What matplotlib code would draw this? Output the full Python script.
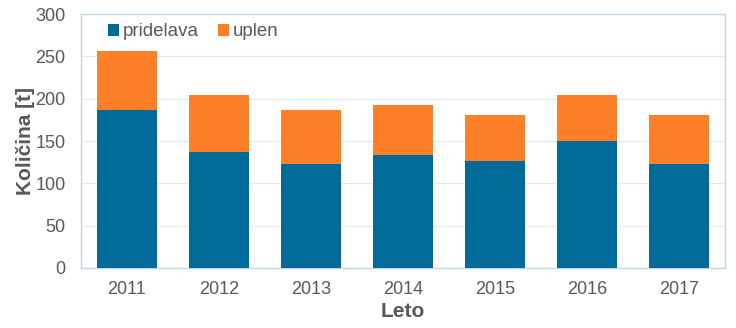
import numpy as np
import matplotlib.pyplot as plt

years = ['2011', '2012', '2013', '2014', '2015', '2016', '2017']
pridelava = [187, 137, 123, 134, 127, 150, 123]
uplen = [69, 67, 64, 58, 54, 54, 58]

plt.rcParams['font.family'] = ['Liberation Sans', 'DejaVu Sans']

blue = '#006b99'
orange = '#fd7f28'
frame = '#b9d9e6'
text_c = '#595959'

fig, ax = plt.subplots(figsize=(7.36, 3.28), dpi=100)
fig.subplots_adjust(left=0.11, right=0.985, top=0.957, bottom=0.183)

x = np.arange(len(years))
ax.bar(x, pridelava, width=0.66, color=blue, label='pridelava', zorder=3)
ax.bar(x, uplen, width=0.66, bottom=pridelava, color=orange, label='uplen', zorder=3)

ax.set_xlim(-0.5, len(years) - 0.5)
ax.set_ylim(0, 300)
ax.set_yticks(range(0, 301, 50))
ax.set_xticks(x)
ax.set_xticklabels(years)
ax.grid(axis='y', color='#e6e6e6', linewidth=0.8, zorder=0)
ax.tick_params(length=0, labelsize=13, colors=text_c)
ax.tick_params(axis='x', pad=9.5)
ax.tick_params(axis='y', pad=11)

for s in ax.spines.values():
    s.set_color(frame)
    s.set_linewidth(1)

ax.set_xlabel('Leto', fontsize=15, fontweight='bold', color=text_c, labelpad=3)
ax.set_ylabel('Količina [t]', fontsize=15, fontweight='bold', color=text_c, labelpad=0)

ax.legend(loc='upper left', bbox_to_anchor=(0.03, 0.993), borderaxespad=0,
          ncol=2, frameon=False, fontsize=13.5, labelcolor=text_c,
          handlelength=0.6, handleheight=0.6, handletextpad=0.2,
          columnspacing=1.0)

fig.savefig('out.png', dpi=100)
